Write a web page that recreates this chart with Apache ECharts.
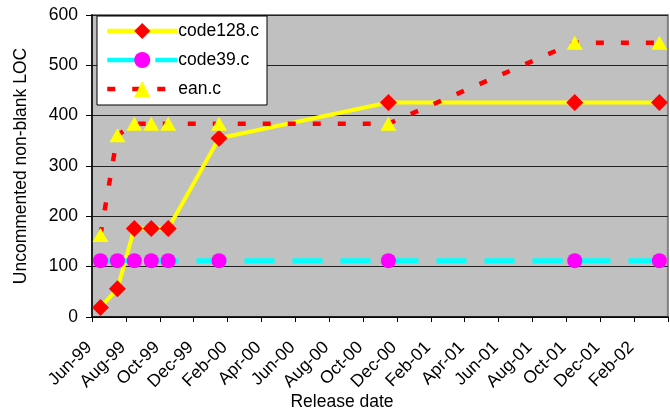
<!DOCTYPE html>
<html>
<head>
<meta charset="utf-8">
<script src="https://cdn.jsdelivr.net/npm/echarts@6/dist/echarts.min.js"></script>
<style>
  html, body { margin: 0; padding: 0; background: #ffffff; }
  #chart { width: 670px; height: 411px; }
</style>
</head>
<body>
<div id="chart"></div>
<script>
// Release months (one point per release) and line counts per source file
const releaseMonths = ['1999-06', '1999-07', '1999-08', '1999-09', '1999-10', '2000-01', '2000-11', '2001-10', '2002-03'];
const code128 = [19, 56, 176, 176, 176, 355, 426, 426, 426];
const code39 = [112, 112, 112, 112, 112, 112, 112, 112, 112];
const ean = [163, 361, 384, 384, 384, 384, 384, 545, 545];

// Axis tick labels, one every two months starting at the axis origin
const tickLabels = ['Jun-99', 'Aug-99', 'Oct-99', 'Dec-99', 'Feb-00', 'Apr-00', 'Jun-00', 'Aug-00',
  'Oct-00', 'Dec-00', 'Feb-01', 'Apr-01', 'Jun-01', 'Aug-01', 'Oct-01', 'Dec-01', 'Feb-02'];
const axisOrigin = '1999-06';

const FONT = "'Liberation Sans', Arial, sans-serif";
const FS = 17.5;

function monthIndex(ym) {
  const [y, m] = ym.split('-').map(Number);
  const [y0, m0] = axisOrigin.split('-').map(Number);
  return (y - y0) * 12 + (m - m0);
}
// each release sits in the middle of its month slot
function pairs(values) {
  return releaseMonths.map((ym, i) => [monthIndex(ym) + 0.5, values[i]]);
}

const chart = echarts.init(document.getElementById('chart'), null, { renderer: 'canvas' });

chart.setOption({
  animation: false,
  backgroundColor: '#ffffff',
  textStyle: { fontFamily: FONT },
  grid: {
    left: 92, top: 15, width: 586.5, height: 302,
    show: true, backgroundColor: '#c0c0c0', borderColor: '#808080', borderWidth: 2
  },
  legend: {
    orient: 'vertical', left: 97, top: 16,
    padding: [6, 8, 7, 8],
    itemWidth: 70, itemHeight: 20, itemGap: 11,
    backgroundColor: '#ffffff', borderColor: '#000000', borderWidth: 1,
    lineStyle: { width: 4.5 },
    textStyle: { fontFamily: FONT, fontSize: FS, color: '#000000', padding: [0, 0, 0, -4] },
    data: ['code128.c', 'code39.c', 'ean.c']
  },
  graphic: [{
    type: 'text', x: 342, y: 402,
    style: { text: 'Release date', font: FS + 'px ' + FONT, fill: '#000000', align: 'center', verticalAlign: 'middle' }
  }],
  xAxis: {
    type: 'value', min: 0, max: 34, interval: 2,
    axisLine: { show: true, onZero: false, lineStyle: { color: '#000000', width: 1.5 } },
    axisTick: { show: true, inside: false, length: 5, lineStyle: { color: '#000000' } },
    splitLine: { show: false },
    axisLabel: {
      rotate: 45, margin: 25, padding: [0, 4, 0, 0], fontSize: FS, color: '#000000', fontFamily: FONT,
      formatter: v => tickLabels[Math.round(v / 2)] || ''
    }
  },
  yAxis: {
    type: 'value', min: 0, max: 600, interval: 100,
    name: 'Uncommented non-blank LOC', nameLocation: 'middle', nameRotate: 90, nameGap: 62,
    nameTextStyle: { fontSize: FS, color: '#000000', fontFamily: FONT },
    axisLine: { show: true, lineStyle: { color: '#000000', width: 1.5 } },
    axisTick: { show: true, inside: false, length: 6, lineStyle: { color: '#000000' } },
    splitLine: { show: true, lineStyle: { color: '#222222', width: 1 } },
    axisLabel: { margin: 14, fontSize: FS, color: '#000000', fontFamily: FONT }
  },
  series: [
    {
      name: 'code128.c', type: 'line', data: pairs(code128),
      symbol: 'diamond', symbolSize: 17,
      lineStyle: { color: '#ffff00', width: 4 },
      itemStyle: { color: '#ff0000' }
    },
    {
      name: 'code39.c', type: 'line', data: pairs(code39),
      symbol: 'circle', symbolSize: 15,
      lineStyle: { color: '#00ffff', width: 5, type: [30, 18] },
      itemStyle: { color: '#ff00ff' }
    },
    {
      name: 'ean.c', type: 'line', data: pairs(ean),
      symbol: 'triangle', symbolSize: [16, 14],
      lineStyle: { color: '#ff0000', width: 4.5, type: [8, 17] },
      itemStyle: { color: '#ffff00' }
    }
  ]
});
</script>
</body>
</html>
